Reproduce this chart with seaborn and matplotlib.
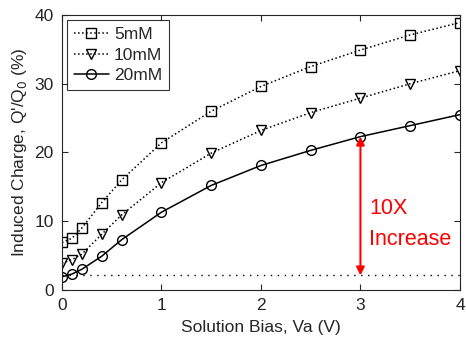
import numpy as np
import pandas as pd
import matplotlib
matplotlib.use('Agg')
import matplotlib.pyplot as plt
import seaborn as sns

bias = [0, 0.1, 0.2, 0.4, 0.6, 1.0, 1.5, 2.0, 2.5, 3.0, 3.5, 4.0]
c5mM = [6.9, 7.5, 9.0, 12.7, 16.0, 21.4, 26.0, 29.6, 32.5, 34.9, 37.1, 38.9]
c10mM = [3.9, 4.4, 5.2, 8.1, 10.9, 15.6, 19.9, 23.2, 25.8, 27.9, 30.0, 31.9]
c20mM = [1.9, 2.3, 3.0, 4.9, 7.3, 11.3, 15.2, 18.1, 20.3, 22.3, 23.9, 25.5]
baseline = 2.1

sns.set_style('ticks')
plt.rcParams['font.family'] = ['Liberation Sans', 'DejaVu Sans']

fig = plt.figure(figsize=(4.66, 3.41), dpi=100)
ax = fig.add_axes([0.133, 0.150, 0.854, 0.806])

series = [('5mM', c5mM, 's', ':'), ('10mM', c10mM, 'v', ':'), ('20mM', c20mM, 'o', '-')]
for name, vals, mk, ls in series:
    df = pd.DataFrame({'x': bias, 'y': vals})
    sns.lineplot(data=df, x='x', y='y', ax=ax, color='black', linestyle=ls,
                 marker=mk, markersize=7 if mk != 's' else 6.5,
                 markerfacecolor='none', markeredgecolor='black',
                 markeredgewidth=1, linewidth=1.1, label=name)

ax.axhline(baseline, color='black', linestyle=(0, (1, 4)), linewidth=1)
ax.annotate('', xy=(3.0, baseline), xytext=(3.0, c20mM[9]),
            arrowprops=dict(arrowstyle='<|-|>', color='red', lw=1.5,
                            mutation_scale=12, shrinkA=0, shrinkB=0))
ax.text(3.09, 11.9, '10X', color='red', fontsize=15.5, va='center')
ax.text(3.09, 7.4, 'Increase', color='red', fontsize=15.5, va='center')

ax.set_xlim(0, 4)
ax.set_ylim(0, 40)
ax.set_xticks([0, 1, 2, 3, 4])
ax.set_yticks([0, 10, 20, 30, 40])
ax.tick_params(direction='in', top=True, right=True, labelsize=12.5, length=4, pad=6)
ax.set_xlabel('Solution Bias, Va (V)', fontsize=12.5, labelpad=5)
ax.set_ylabel("Induced Charge, Q'/Q$_0$ (%)", fontsize=12.5, labelpad=4)
for s in ax.spines.values():
    s.set_linewidth(0.8)

leg = ax.legend(loc='upper left', fontsize=12.5, frameon=True, fancybox=False,
                edgecolor='black', handlelength=2.0, borderaxespad=0.3,
                handletextpad=0.3, labelspacing=0.3, borderpad=0.4)
leg.get_frame().set_linewidth(0.8)

fig.savefig('out.png', dpi=100)
